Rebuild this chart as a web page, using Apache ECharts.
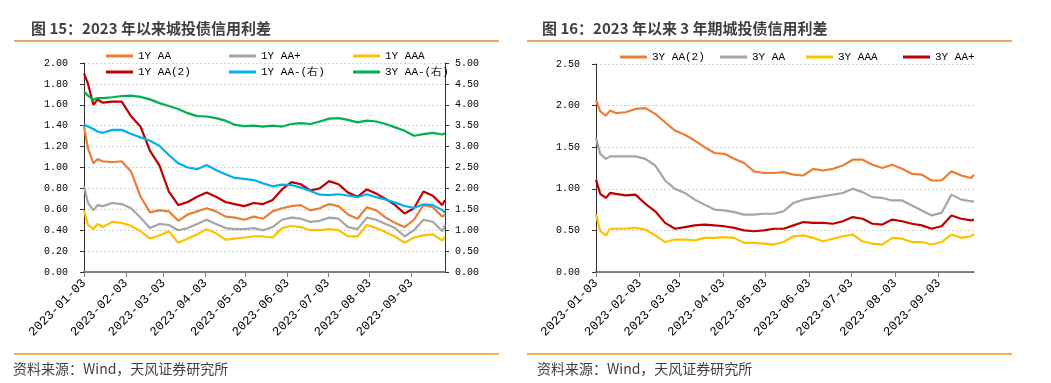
<!DOCTYPE html>
<html><head><meta charset="utf-8">
<script src="https://cdn.jsdelivr.net/npm/echarts@6/dist/echarts.min.js"></script>
<style>html,body{margin:0;padding:0;background:#fff}#c{width:1051px;height:383px}</style>
</head><body><div id="c"></div><script>
// sample dates (shared by both charts)
const dates = ['2023-01-03','2023-01-06','2023-01-10','2023-01-13','2023-01-17','2023-01-24','2023-01-31',
'2023-02-07','2023-02-14','2023-02-21','2023-02-28','2023-03-07','2023-03-14','2023-03-21','2023-03-28',
'2023-04-04','2023-04-11','2023-04-18','2023-04-25','2023-05-02','2023-05-09','2023-05-16','2023-05-23',
'2023-05-30','2023-06-06','2023-06-13','2023-06-20','2023-06-27','2023-07-04','2023-07-11','2023-07-18',
'2023-07-25','2023-08-01','2023-08-08','2023-08-15','2023-08-22','2023-08-29','2023-09-05','2023-09-12',
'2023-09-19','2023-09-26','2023-09-28'];
const tickDates = ['2023-01-03','2023-02-03','2023-03-03','2023-04-03','2023-05-03','2023-06-03','2023-07-03','2023-08-03','2023-09-03'];
const startDate = '2023-01-03', endDate = '2023-09-28';

// Chart 15 (left axis)
const y1AA   = [1.39,1.18,1.04,1.08,1.06,1.05,1.06,0.96,0.72,0.57,0.59,0.58,0.49,0.55,0.58,0.61,0.58,0.53,0.52,0.50,0.53,0.51,0.58,0.61,0.63,0.64,0.59,0.61,0.65,0.63,0.55,0.51,0.62,0.59,0.52,0.47,0.43,0.50,0.64,0.62,0.53,0.55];
const y1AAp  = [0.82,0.66,0.59,0.64,0.63,0.66,0.65,0.61,0.52,0.42,0.46,0.45,0.40,0.42,0.46,0.50,0.46,0.42,0.41,0.41,0.42,0.40,0.43,0.50,0.52,0.51,0.48,0.49,0.52,0.51,0.43,0.41,0.52,0.50,0.46,0.42,0.34,0.40,0.50,0.48,0.39,0.45];
const y1AAA  = [0.59,0.45,0.41,0.46,0.43,0.48,0.47,0.44,0.39,0.32,0.35,0.39,0.28,0.32,0.36,0.41,0.37,0.31,0.32,0.33,0.34,0.34,0.33,0.42,0.44,0.43,0.40,0.40,0.41,0.40,0.34,0.34,0.45,0.42,0.38,0.34,0.28,0.33,0.35,0.36,0.30,0.34];
const y1AA2  = [1.90,1.80,1.60,1.65,1.62,1.63,1.63,1.49,1.39,1.16,1.02,0.77,0.64,0.67,0.72,0.76,0.72,0.67,0.65,0.63,0.66,0.65,0.69,0.79,0.86,0.84,0.78,0.80,0.87,0.84,0.76,0.72,0.79,0.75,0.70,0.64,0.56,0.61,0.77,0.73,0.64,0.69];
// Chart 15 (right axis)
const y1AAm  = [3.52,3.48,3.42,3.36,3.33,3.40,3.40,3.30,3.22,3.14,3.02,2.80,2.60,2.50,2.46,2.56,2.44,2.34,2.25,2.23,2.20,2.12,2.05,2.09,2.08,2.02,1.94,1.85,1.84,1.86,1.83,1.79,1.86,1.79,1.73,1.66,1.58,1.53,1.62,1.60,1.48,1.42];
const y3AAm  = [4.31,4.22,4.12,4.16,4.16,4.18,4.21,4.22,4.19,4.13,4.04,3.97,3.90,3.80,3.73,3.72,3.68,3.62,3.52,3.49,3.50,3.48,3.50,3.48,3.54,3.56,3.54,3.60,3.67,3.68,3.64,3.58,3.62,3.60,3.54,3.46,3.38,3.26,3.30,3.33,3.29,3.32];
// Chart 16
const r3AA2  = [2.07,1.93,1.88,1.94,1.91,1.92,1.96,1.97,1.90,1.80,1.70,1.65,1.58,1.50,1.43,1.42,1.36,1.31,1.21,1.19,1.19,1.20,1.17,1.16,1.24,1.22,1.24,1.28,1.35,1.35,1.29,1.25,1.29,1.24,1.18,1.17,1.10,1.10,1.21,1.16,1.13,1.17];
const r3AA   = [1.61,1.42,1.36,1.39,1.39,1.39,1.39,1.36,1.28,1.10,1.00,0.95,0.87,0.81,0.75,0.74,0.72,0.69,0.69,0.70,0.70,0.73,0.83,0.87,0.89,0.91,0.93,0.95,1.00,0.96,0.90,0.89,0.86,0.86,0.80,0.74,0.68,0.71,0.93,0.87,0.85,0.85];
const r3AAA  = [0.69,0.49,0.44,0.52,0.52,0.52,0.53,0.51,0.44,0.36,0.39,0.39,0.38,0.41,0.41,0.42,0.41,0.35,0.35,0.34,0.33,0.36,0.43,0.44,0.41,0.37,0.40,0.43,0.45,0.37,0.34,0.33,0.41,0.40,0.36,0.36,0.33,0.36,0.45,0.41,0.43,0.46];
const r3AAp  = [1.11,0.94,0.89,0.95,0.94,0.92,0.93,0.82,0.73,0.59,0.52,0.54,0.56,0.57,0.56,0.55,0.53,0.50,0.49,0.50,0.52,0.52,0.56,0.60,0.59,0.59,0.58,0.61,0.66,0.64,0.58,0.57,0.63,0.61,0.58,0.56,0.52,0.55,0.68,0.64,0.62,0.63];

function ts(s){const p=s.split('-');return new Date(+p[0],+p[1]-1,+p[2]).getTime();}
function fmt(v){const d=new Date(v);return d.getFullYear()+'-'+String(d.getMonth()+1).padStart(2,'0')+'-'+String(d.getDate()).padStart(2,'0');}
const tickTs = tickDates.map(ts);
const pairs = arr => dates.map((d,i)=>[ts(d), arr[i]]);

const MONO = '"Liberation Mono","DejaVu Sans Mono",monospace';
const CJK = '"Noto Sans CJK SC","Noto Sans",sans-serif';

function xAxis(g){
  return {type:'value', gridIndex:g, min:ts(startDate), max:ts(endDate), scale:true,
    axisLine:{show:true, onZero:false, lineStyle:{color:g===0?'#808080':'#595959', width:g===0?2:1.5}},
    axisTick:{show:true, length:5, customValues:tickTs, lineStyle:{color:'#808080', width:1}},
    axisLabel:{customValues:tickTs, rotate:45, margin:9, formatter:fmt, fontFamily:MONO, fontSize:12.5, color:'#000', hideOverlap:false, showMinLabel:true, showMaxLabel:true},
    splitLine:{show:false}};
}
function yAxis(g, max, interval, pos, margin, grid){
  return {type:'value', gridIndex:g, min:0, max:max, interval:interval, position:pos,
    axisLine:{show:true, lineStyle:{color:'#303030', width:1}},
    axisTick:{show:true, length:4, lineStyle:{color:'#303030'}},
    axisLabel:{formatter:v=>v.toFixed(2), margin:margin, fontFamily:MONO, fontSize:10, color:'#000'},
    splitLine:{show:grid, lineStyle:{color:'#d4d4d4', type:[2,2], width:1}}};
}
function line(name, data, color, xi, yi){
  return {name:name, type:'line', xAxisIndex:xi, yAxisIndex:yi, data:pairs(data), showSymbol:false,
    lineStyle:{color:color, width:2.2}, itemStyle:{color:color}, animation:false, z:2};
}
const legendLayout = [
  ['1Y AA',106,56],['1Y AA+',229,56],['1Y AAA',353,56],
  ['1Y AA(2)',106,72],['1Y AA-(右)',229,72],['3Y AA-(右)',353,72],
  ['3Y AA(2)',620,57],['3Y AA',720,57],['3Y AAA',806,57],['3Y AA+',903,57]
];
const legends = legendLayout.map(([n,x,y])=>({data:[n], left:x, top:y-7, itemWidth:27, itemHeight:3, icon:'rect',
  padding:0, selectedMode:false, textStyle:{fontFamily:MONO, fontSize:11, color:'#000', lineHeight:14}}));

const option = {
  backgroundColor:'#fff',
  animation:false,
  title:[
    {text:'图 15：2023 年以来城投债信用利差', left:26, top:16, textStyle:{fontFamily:CJK, fontSize:15, fontWeight:'bold', color:'#404040'}},
    {text:'图 16：2023 年以来 3 年期城投债信用利差', left:537, top:16, textStyle:{fontFamily:CJK, fontSize:15, fontWeight:'bold', color:'#404040'}}
  ],
  legend:legends,
  grid:[
    {left:84, top:63, width:361, height:209},
    {left:596, top:64, width:378, height:208}
  ],
  xAxis:[xAxis(0), xAxis(1)],
  yAxis:[yAxis(0,2,0.2,'left',16,true), yAxis(0,5,0.5,'right',10,false), yAxis(1,2.5,0.5,'left',16,true)],
  series:[
    line('1Y AA', y1AA, '#ED7D31', 0, 0),
    line('1Y AA+', y1AAp, '#A5A5A5', 0, 0),
    line('1Y AAA', y1AAA, '#FFC000', 0, 0),
    line('1Y AA(2)', y1AA2, '#C00000', 0, 0),
    line('1Y AA-(右)', y1AAm, '#00B0F0', 0, 1),
    line('3Y AA-(右)', y3AAm, '#00B050', 0, 1),
    line('3Y AA(2)', r3AA2, '#ED7D31', 1, 2),
    line('3Y AA', r3AA, '#A5A5A5', 1, 2),
    line('3Y AAA', r3AAA, '#FFC000', 1, 2),
    line('3Y AA+', r3AAp, '#C00000', 1, 2)
  ],
  graphic:[
    {type:'line', shape:{x1:14,y1:41,x2:499,y2:41}, style:{stroke:'#E9893A', lineWidth:1.5}},
    {type:'line', shape:{x1:527,y1:41,x2:1012,y2:41}, style:{stroke:'#E9893A', lineWidth:1.5}},
    {type:'line', shape:{x1:14,y1:354,x2:499,y2:354}, style:{stroke:'#F7901E', lineWidth:1.5}},
    {type:'line', shape:{x1:527,y1:354,x2:1012,y2:354}, style:{stroke:'#F7901E', lineWidth:1.5}},
    {type:'text', left:13, top:362, style:{text:'资料来源：Wind，天风证券研究所', font:'14px "Noto Sans CJK SC", sans-serif', fill:'#404040'}},
    {type:'text', left:537, top:362, style:{text:'资料来源：Wind，天风证券研究所', font:'14px "Noto Sans CJK SC", sans-serif', fill:'#404040'}}
  ]
};
const chart = echarts.init(document.getElementById('c'));
chart.setOption(option);
</script></body></html>
